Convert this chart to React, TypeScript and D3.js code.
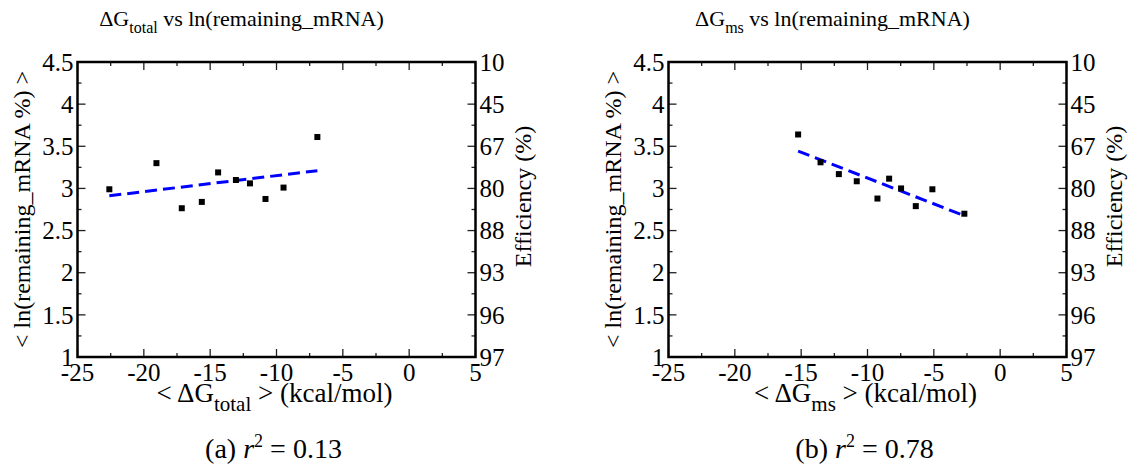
import React from 'react';
import * as d3 from 'd3';

// values
const xTicks = [-25, -20, -15, -10, -5, 0, 5];
const yTicks = [1, 1.5, 2, 2.5, 3, 3.5, 4, 4.5];
const efficiencyLabels = ['97', '96', '93', '88', '80', '67', '45', '10'];

const dgTotal = [-22.6, -19.05, -17.14, -15.63, -14.4, -13.06, -12.0, -10.83, -9.47, -6.92];
const lnTotal = [2.99, 3.3, 2.765, 2.84, 3.19, 3.1, 3.06, 2.875, 3.01, 3.61];

const dgMs = [-15.23, -13.54, -12.16, -10.81, -9.25, -8.37, -7.47, -6.36, -5.11, -2.7];
const lnMs = [3.64, 3.31, 3.17, 3.085, 2.88, 3.116, 3.0, 2.79, 2.99, 2.7];

const FONT = '"Liberation Serif", "DejaVu Serif", serif';

interface PanelProps {
  ox: number;
  sub: string;
  xs: number[];
  ys: number[];
  tag: string;
  r2: string;
}

const Panel: React.FC<PanelProps> = ({ ox, sub, xs, ys, tag, r2 }) => {
  const left = 77.5 + ox;
  const right = left + 398;
  const top = 62;
  const bottom = 357;

  const x = d3.scaleLinear().domain([-25, 5]).range([left, right]);
  const y = d3.scaleLinear().domain([1, 4.5]).range([bottom, top]);

  // least squares fit over the data range
  const mx = d3.mean(xs) as number;
  const my = d3.mean(ys) as number;
  const sxy = d3.sum(xs, (v, i) => (v - mx) * (ys[i] - my));
  const sxx = d3.sum(xs, (v) => (v - mx) * (v - mx));
  const slope = sxy / sxx;
  const [x0, x1] = d3.extent(xs) as [number, number];
  const fitPts: [number, number][] = [
    [x0, my + slope * (x0 - mx)],
    [x1, my + slope * (x1 - mx)],
  ];
  const line = d3
    .line<[number, number]>()
    .x((d) => x(d[0]))
    .y((d) => y(d[1]));

  const xMinor = d3.range(-25, 5.01, 2.5);
  const yMinor = d3.range(1, 4.51, 0.25);
  const isMajorX = (v: number) => Math.abs(v % 5) < 1e-6;
  const isMajorY = (v: number) => Math.abs((v * 2) % 1) < 1e-6;

  const cx = (left + right) / 2;
  const cy = (top + bottom) / 2;

  return (
    <g fill="#000" fontFamily={FONT}>
      {/* title */}
      <text x={cx - 35} y={26} textAnchor="middle" fontSize={22}>
        ΔG
        <tspan dy={7} fontSize={16}>{sub}</tspan>
        <tspan dy={-7}> vs ln(remaining_mRNA)</tspan>
      </text>

      {/* ticks */}
      {xMinor.map((v) => {
        const len = isMajorX(v) ? 8 : 4;
        return (
          <g key={'x' + v} stroke="#222" strokeWidth={1.3}>
            <line x1={x(v)} x2={x(v)} y1={bottom} y2={bottom - len} />
            <line x1={x(v)} x2={x(v)} y1={top} y2={top + len} />
          </g>
        );
      })}
      {yMinor.map((v) => {
        const len = isMajorY(v) ? 8 : 4;
        return (
          <g key={'y' + v} stroke="#222" strokeWidth={1.3}>
            <line x1={left} x2={left + len} y1={y(v)} y2={y(v)} />
            <line x1={right} x2={right - len} y1={y(v)} y2={y(v)} />
          </g>
        );
      })}

      {/* frame */}
      <rect x={left} y={top} width={right - left} height={bottom - top} fill="none" stroke="#000" strokeWidth={2.5} />

      {/* tick labels */}
      {xTicks.map((v) => (
        <text key={'xl' + v} x={x(v)} y={381} textAnchor="middle" fontSize={25}>
          {v}
        </text>
      ))}
      {yTicks.map((v) => (
        <text key={'yl' + v} x={left - 4} y={y(v)} dy="0.35em" textAnchor="end" fontSize={25}>
          {v}
        </text>
      ))}
      {yTicks.map((v, i) => (
        <text key={'el' + v} x={right + 4} y={y(v)} dy="0.35em" textAnchor="start" fontSize={25}>
          {efficiencyLabels[i]}
        </text>
      ))}

      {/* axis labels */}
      <text x={cx - 2} y={402} textAnchor="middle" fontSize={27}>
        {'< ΔG'}
        <tspan dy={9} fontSize={21}>{sub}</tspan>
        <tspan dy={-9}>{' > (kcal/mol)'}</tspan>
      </text>
      <text
        transform={`translate(${left - 56},${cy}) rotate(-90)`}
        textAnchor="middle"
        dy="0.35em"
        fontSize={24}
      >
        {'< ln(remaining_mRNA %) >'}
      </text>
      <text
        transform={`translate(${right + 47},${cy - 13}) rotate(-90)`}
        textAnchor="middle"
        dy="0.35em"
        fontSize={24}
      >
        Efficiency (%)
      </text>

      {/* fit line */}
      <path d={line(fitPts) as string} fill="none" stroke="#0000ff" strokeWidth={3} strokeDasharray="12 6" />

      {/* points */}
      {xs.map((v, i) => (
        <rect key={'p' + i} x={x(v) - 3} y={y(ys[i]) - 3} width={6} height={6} fill="#000" />
      ))}

      {/* caption */}
      <text x={cx - 3} y={458} textAnchor="middle" fontSize={28}>
        {`(${tag}) `}
        <tspan fontStyle="italic">r</tspan>
        <tspan dy={-11} fontSize={18}>2</tspan>
        <tspan dy={11}>{` = ${r2}`}</tspan>
      </text>
    </g>
  );
};

export default function App() {
  return (
    <svg width={1135} height={467} style={{ position: 'absolute', left: 0, top: 0, background: '#fff' }}>
      <rect width={1135} height={467} fill="#fff" />
      <Panel ox={0} sub="total" xs={dgTotal} ys={lnTotal} tag="a" r2="0.13" />
      <Panel ox={591} sub="ms" xs={dgMs} ys={lnMs} tag="b" r2="0.78" />
    </svg>
  );
}
